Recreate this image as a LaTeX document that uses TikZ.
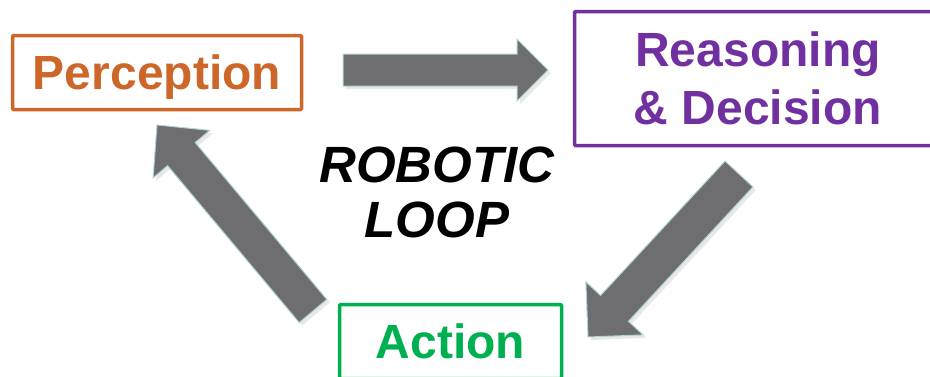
\documentclass[tikz,border=0pt]{standalone}
\usepackage{fontspec}
\setmainfont{Liberation Sans}
\usetikzlibrary{calc,shadows}
\definecolor{perceptcol}{RGB}{204,102,41}
\definecolor{reasoncol}{RGB}{112,48,160}
\definecolor{actioncol}{RGB}{0,176,80}
\definecolor{arrowgray}{RGB}{110,110,112}
\definecolor{arrowrim}{RGB}{176,212,212}
\tikzset{
  stagebox/.style={draw=#1, text=#1, line width=3.5pt, rounded corners=1pt,
    font=\bfseries\fontsize{48}{58}\selectfont, align=center, inner sep=0pt},
  blockfill/.style={fill=arrowgray, draw=arrowrim, line width=1pt,
    drop shadow={opacity=0.18, shadow xshift=3pt, shadow yshift=-3pt}},
}
% block arrow: tail, tip, half shaft, half head, head length
\newcommand{\blockarrow}[5]{%
  \coordinate (h) at ($(#2)!#5!(#1)$);
  \path[blockfill] ($(#1)!#3!90:(#2)$) -- ($(h)!#3!90:(#2)$) -- ($(h)!#4!90:(#2)$)
    -- (#2) -- ($(h)!#4!-90:(#2)$) -- ($(h)!#3!-90:(#2)$) -- ($(#1)!#3!-90:(#2)$) -- cycle;
}

\begin{document}
\begin{tikzpicture}[x=1pt,y=-1pt]
  \useasboundingbox (0,0) rectangle (930,376);
  \node[stagebox=perceptcol, minimum width=289pt, minimum height=74pt, text depth=0pt] (perception) at (157,72.5) {Perception};
  \node[stagebox=reasoncol, minimum width=367pt, minimum height=134pt] (reasoning) at (758,78.5) {Reasoning\\\& Decision};
  \node[stagebox=actioncol, minimum width=222pt, minimum height=74pt] (action) at (450.5,341.5) {Action};
  \node[font=\bfseries\itshape\fontsize{51}{55}\selectfont, align=center] (loop) at (437,192) {ROBOTIC\\LOOP};

  \coordinate (pr-tail) at (343,70);
  \coordinate (pr-tip) at (548,70);
  \coordinate (ra-tail) at (739,174);
  \coordinate (ra-tip) at (588,337);
  \coordinate (ap-tail) at (313,311);
  \coordinate (ap-tip) at (157,125);
  \blockarrow{pr-tail}{pr-tip}{16pt}{31pt}{31pt}
  \blockarrow{ra-tail}{ra-tip}{19pt}{39pt}{39pt}
  \blockarrow{ap-tail}{ap-tip}{18pt}{37pt}{38pt}
\end{tikzpicture}
\end{document}
